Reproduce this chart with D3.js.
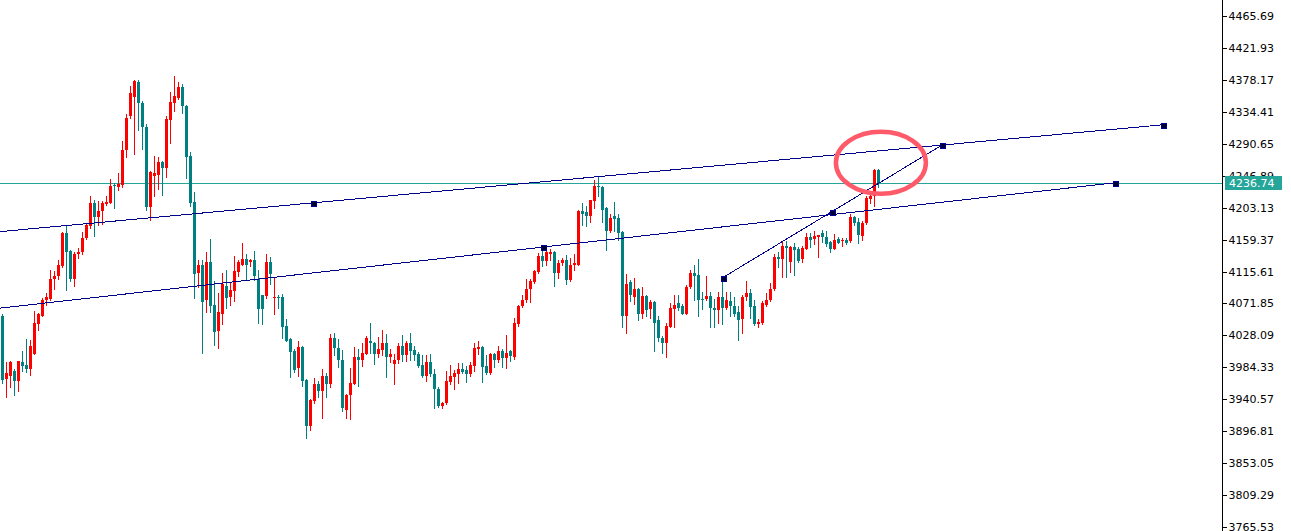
<!DOCTYPE html>
<html><head><meta charset="utf-8">
<script src="https://cdn.jsdelivr.net/npm/d3@7"></script>
<style>html,body{margin:0;padding:0;background:#fff;overflow:hidden}</style>
</head><body>
<svg id="c" width="1291" height="531"></svg>
<script>
// ---- data (prices) ----
const opens=[4054,3968,3973,3979,3965,3992,3987,3982,4003,4043,4055,4076,4078,4105,4109,4123,4168,4144,4106,4139,
4143,4161,4178,4209,4190,4198,4208,4210,4234,4232,4234,4282,4328,4355,4375,4347,4314,4204,4247,4248,
4266,4258,4323,4347,4353,4369,4343,4274,4211,4113,4125,4076,4128,4070,4034,4058,4096,4080,4089,4115,
4125,4133,4128,4132,4105,4083,4082,4129,4079,4081,4080,4041,4023,4006,3984,4012,3967,3904,3938,3962,
3952,3973,3961,4024,4011,3995,3926,3946,3962,3998,3994,4003,4021,4018,4003,4008,4017,3998,3989,3995,
4014,4001,4017,4008,4002,3987,3972,3992,3975,3954,3932,3935,3964,3971,3975,3982,3981,3975,3986,4010,
4012,3986,3976,4002,3994,4006,3997,4006,3998,4044,4068,4076,4091,4101,4115,4137,4130,4140,4143,4113,
4127,4132,4104,4124,4125,4199,4197,4191,4212,4233,4232,4203,4171,4191,4189,4170,4055,4101,4080,4091,
4057,4082,4064,4074,4049,4024,4018,4040,4064,4072,4068,4058,4095,4113,4111,4078,4078,4082,4066,4063,
4081,4066,4075,4068,4060,4050,4080,4086,4068,4043,4045,4070,4076,4091,4136,4133,4151,4128,4149,4146,
4133,4147,4163,4160,4163,4168,4163,4156,4147,4160,4157,4159,4157,4190,4183,4164,4182,4215,4219,4255];
const highs=[4058,3991,3993,3982,3993,4006,4023,4022,4061,4059,4079,4086,4117,4116,4132,4170,4180,4145,4143,4148,
4170,4182,4219,4213,4212,4212,4219,4243,4237,4251,4294,4331,4370,4378,4378,4349,4318,4253,4274,4272,
4267,4329,4361,4383,4375,4373,4344,4279,4225,4131,4131,4143,4160,4102,4086,4113,4117,4100,4137,4131,
4155,4140,4133,4144,4118,4084,4139,4136,4108,4084,4085,4050,4024,4009,4020,4014,3968,3941,3970,3966,
3982,3976,4030,4031,4023,4008,3948,3984,4012,4010,4018,4027,4045,4019,4026,4036,4030,4009,4002,4018,
4028,4020,4031,4013,4005,4001,4001,4002,3982,3957,3937,3979,3987,3981,3990,3990,3986,3992,4018,4020,
4013,4001,4004,4004,4013,4009,4028,4008,4052,4070,4084,4106,4106,4118,4141,4148,4146,4147,4144,4132,
4134,4138,4134,4140,4200,4210,4205,4214,4241,4245,4233,4204,4194,4211,4194,4171,4112,4104,4107,4093,
4095,4083,4076,4075,4055,4027,4045,4072,4083,4083,4071,4097,4117,4124,4133,4087,4110,4087,4078,4087,
4107,4087,4087,4081,4069,4083,4102,4092,4077,4050,4075,4086,4100,4140,4143,4157,4157,4151,4155,4149,
4151,4169,4169,4171,4166,4173,4171,4157,4167,4163,4162,4161,4194,4192,4189,4185,4219,4224,4256,4256];
const lows=[3963,3944,3958,3947,3952,3979,3978,3974,4002,4035,4054,4070,4077,4091,4105,4122,4090,4102,4096,4134,
4139,4160,4175,4164,4180,4181,4207,4209,4203,4227,4232,4273,4326,4277,4309,4283,4200,4186,4219,4228,
4221,4245,4292,4336,4352,4333,4244,4205,4079,4095,4004,4060,4060,4015,4011,4043,4066,4070,4075,4110,
4124,4106,4123,4104,4045,4043,4079,4098,4057,4066,4024,4020,3971,3978,3972,3959,3887,3898,3935,3944,
3915,3944,3958,4001,3985,3925,3915,3914,3961,3959,3986,4002,4004,3989,3998,4001,3971,3991,3962,3990,
3993,3993,3994,3995,3985,3971,3966,3972,3928,3930,3929,3934,3961,3954,3963,3977,3964,3972,3979,4002,
3964,3975,3975,3985,3991,3985,3983,3993,3996,4041,4067,4074,4074,4100,4114,4123,4124,4132,4096,4107,
4125,4098,4102,4118,4124,4180,4178,4183,4203,4219,4184,4145,4170,4171,4159,4039,4032,4075,4071,4049,
4052,4055,4052,4007,4020,4004,3998,4039,4040,4063,4057,4057,4093,4077,4055,4064,4077,4040,4039,4045,
4043,4064,4055,4055,4022,4031,4077,4052,4042,4040,4044,4069,4075,4090,4122,4108,4108,4115,4111,4128,
4128,4146,4149,4153,4136,4156,4151,4142,4146,4154,4151,4153,4156,4180,4154,4159,4181,4210,4205,4232];
const closes=[3967,3976,3992,3965,3993,3986,3982,4013,4045,4057,4077,4080,4106,4110,4125,4168,4143,4105,4140,4142,
4162,4180,4209,4190,4199,4210,4211,4233,4233,4236,4282,4326,4360,4376,4347,4314,4204,4252,4250,4266,
4258,4324,4348,4356,4369,4342,4273,4210,4112,4125,4074,4128,4069,4033,4060,4099,4079,4090,4116,4128,
4133,4125,4132,4110,4064,4064,4129,4112,4081,4079,4040,4021,4005,3980,4012,3966,3904,3939,3962,3952,
3973,3961,4024,4011,3994,3928,3947,3963,3998,3994,4004,4024,4018,4003,4009,4017,3998,4002,3995,4014,
4001,4017,4006,4001,3986,3972,3991,3975,3954,3931,3936,3966,3972,3976,3982,3978,3975,3988,4011,4012,
3985,3976,4002,3994,4006,3997,4004,4000,4045,4069,4077,4092,4102,4116,4137,4130,4142,4143,4113,4127,
4132,4104,4125,4127,4199,4194,4191,4213,4233,4231,4200,4171,4189,4188,4168,4055,4099,4084,4091,4057,
4082,4063,4074,4045,4024,4018,4041,4065,4070,4066,4058,4095,4113,4109,4077,4076,4082,4065,4063,4081,
4066,4077,4068,4058,4049,4081,4086,4067,4043,4046,4072,4077,4092,4136,4133,4151,4148,4149,4145,4130,
4148,4163,4159,4164,4165,4163,4153,4146,4159,4155,4159,4155,4190,4182,4165,4182,4216,4219,4255,4236.74];
const tickLabels=["4465.69","4421.93","4378.17","4334.41","4290.65","4246.89","4203.13","4159.37","4115.61",
"4071.85","4028.09","3984.33","3940.57","3896.81","3853.05","3809.29","3765.53"];
const lastPrice=4236.74;
const trendUpper=[{bar:77.5,price:4209.6},{bar:290,price:4316.6}];
const trendLower=[{bar:135,price:4149.0},{bar:278,price:4237.1}];
const trendDiag=[{bar:180,price:4107.0},{bar:234.75,price:4288.5}];
const highlight={bar:219.6,price:4264.6};

// ---- layout / style ----
const W=1291,H=531,axisX=1222.5;
const UP="#ff0000",DOWN="#008080",LINE="#00008b",PRICE="#26a69a";
const svg=d3.select("#c");
const x=d3.scaleLinear().domain([0,1]).range([2.5,6.5]);
const y=d3.scaleLinear().domain([3765.53,4465.69]).range([527,16]);

svg.append("defs").append("clipPath").attr("id","plot").append("rect")
  .attr("x",0).attr("y",0).attr("width",axisX).attr("height",H);
const plot=svg.append("g").attr("clip-path","url(#plot)");

// price line
const py=Math.round(y(lastPrice))+0.5;
plot.append("line").attr("x1",0).attr("x2",axisX).attr("y1",py).attr("y2",py)
  .attr("stroke",PRICE).attr("stroke-width",1).attr("shape-rendering","crispEdges");

// candles
const bars=opens.map((o,i)=>({i,o,h:highs[i],l:lows[i],c:closes[i]}));
const cg=plot.append("g").attr("shape-rendering","crispEdges");
bars.forEach(d=>{
  const col=d.c>=d.o?UP:DOWN;
  const cx=x(d.i);
  const yh=Math.round(y(d.h)), yl=Math.round(y(d.l));
  cg.append("rect").attr("x",cx-0.5).attr("width",1).attr("y",yh).attr("height",Math.max(1,yl-yh+1)).attr("fill",col);
  const yt=Math.round(y(Math.max(d.o,d.c))), yb=Math.round(y(Math.min(d.o,d.c)));
  cg.append("rect").attr("x",cx-1.5).attr("width",3).attr("y",yt).attr("height",Math.max(1,yb-yt)).attr("fill",col);
});

// trend lines
const lg=plot.append("g");
function trend(pts,rayLeft){
  const pr=d3.scaleLinear().domain([pts[0].bar,pts[1].bar]).range([pts[0].price,pts[1].price]);
  const b0=rayLeft?x.invert(0):pts[0].bar;
  const b1=pts[1].bar;
  lg.append("line").attr("x1",x(b0)).attr("y1",y(pr(b0))).attr("x2",x(b1)).attr("y2",y(pr(b1)))
    .attr("stroke",LINE).attr("stroke-width",1).attr("shape-rendering","crispEdges");
  return pr;
}
trend(trendUpper,true);
trend(trendLower,true);
const dpr=trend(trendDiag,false);
const markers=[...trendUpper,...trendLower,...trendDiag,
  {bar:(trendDiag[0].bar+trendDiag[1].bar)/2,price:dpr((trendDiag[0].bar+trendDiag[1].bar)/2)}];
lg.selectAll("rect.m").data(markers).join("rect").attr("class","m")
  .attr("x",d=>Math.round(x(d.bar))-2).attr("y",d=>Math.round(y(d.price))-2)
  .attr("width",5).attr("height",5).attr("fill","#000030").attr("stroke","#000090").attr("stroke-width",1)
  .attr("shape-rendering","crispEdges");

// highlight ellipse
plot.append("ellipse").attr("cx",x(highlight.bar)).attr("cy",y(highlight.price))
  .attr("rx",45).attr("ry",31).attr("fill","none").attr("stroke","#ff5a6a").attr("stroke-width",4.5);

// axis
const ax=svg.append("g").attr("transform",`translate(${axisX},0)`)
  .call(d3.axisRight(y).tickValues(tickLabels.map(Number)).tickSize(4).tickPadding(2)
    .tickFormat((d,i)=>tickLabels[i]));
ax.select(".domain").remove();
ax.selectAll("line").attr("stroke","#000").attr("shape-rendering","crispEdges");
ax.selectAll("text").attr("fill","#000").style("font-family","'DejaVu Sans',sans-serif").style("font-size","11px");
svg.append("line").attr("x1",axisX).attr("x2",axisX).attr("y1",0).attr("y2",H)
  .attr("stroke","#000").attr("stroke-width",1).attr("shape-rendering","crispEdges");

// last price label
svg.append("rect").attr("x",1225).attr("y",Math.round(y(lastPrice))-7).attr("width",57).attr("height",14)
  .attr("fill",PRICE);
svg.append("text").attr("x",1229).attr("y",y(lastPrice)).attr("dy","0.36em").attr("fill","#fff")
  .style("font-family","'DejaVu Sans',sans-serif").style("font-size","11px").text(d3.format(".2f")(lastPrice));
</script>
</body></html>
